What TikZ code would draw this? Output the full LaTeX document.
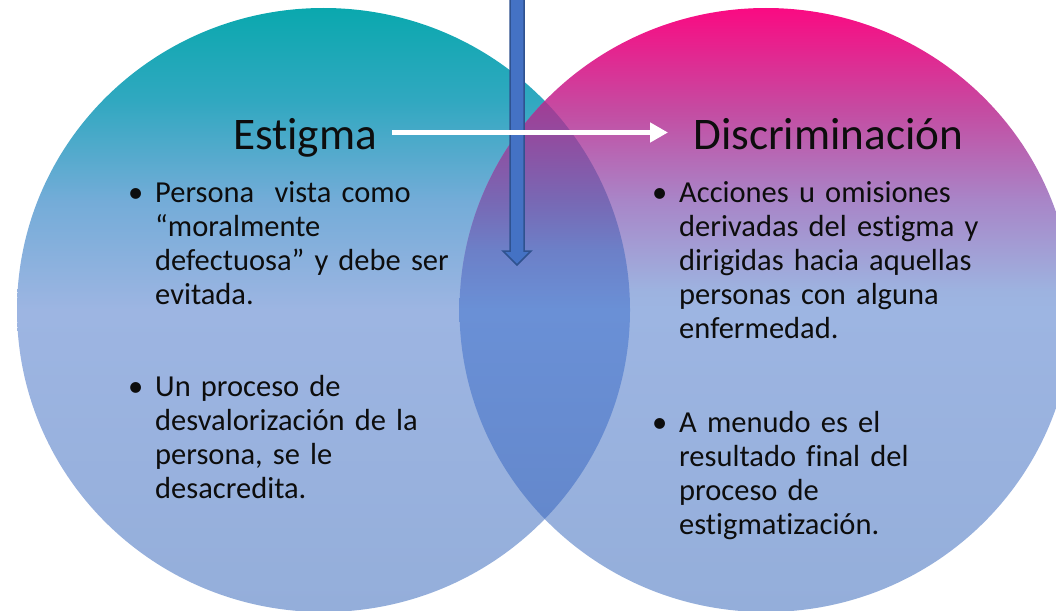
\documentclass[tikz,border=0pt]{standalone}
\usepackage{fontspec}
\setmainfont{Carlito}[Ligatures={NoCommon}]
\usetikzlibrary{arrows.meta,calc}

\definecolor{ltop}{HTML}{0AA8AE}
\definecolor{lone}{HTML}{30A8C0}
\definecolor{ltwo}{HTML}{74ACD8}
\definecolor{lmid}{HTML}{9DB5E2}
\definecolor{lbot}{HTML}{94AEDA}
\definecolor{rtop}{HTML}{FA0A82}
\definecolor{rone}{HTML}{C44CA2}
\definecolor{rtwo}{HTML}{A886C8}
\definecolor{rthr}{HTML}{9DB3E0}
\definecolor{otop}{HTML}{A23C94}
\definecolor{oone}{HTML}{8C52A4}
\definecolor{otwo}{HTML}{7868B4}
\definecolor{othr}{HTML}{6C80C8}
\definecolor{omid}{HTML}{6A90D6}
\definecolor{obot}{HTML}{6488CC}
\definecolor{arrowfill}{HTML}{4472C4}
\definecolor{arrowline}{HTML}{2F528F}
\definecolor{txt}{HTML}{0D0D0D}

\pgfdeclareverticalshading{leftsh}{100bp}{color(0bp)=(lbot); color(25bp)=(lbot); color(50bp)=(lmid); color(59bp)=(ltwo); color(67.4bp)=(lone); color(75bp)=(ltop); color(100bp)=(ltop)}
\pgfdeclareverticalshading{rightsh}{100bp}{color(0bp)=(lbot); color(25bp)=(lbot); color(50bp)=(lmid); color(51.5bp)=(rthr); color(59bp)=(rtwo); color(66.5bp)=(rone); color(75bp)=(rtop); color(100bp)=(rtop)}
\pgfdeclareverticalshading{oversh}{100bp}{color(0bp)=(obot); color(25bp)=(obot); color(50bp)=(omid); color(57bp)=(othr); color(63bp)=(otwo); color(69bp)=(oone); color(75bp)=(otop); color(100bp)=(otop)}

\newcommand\bul{\leavevmode\llap{•\hspace{12pt}}}

\tikzset{
  title/.style={font=\fontsize{45.2pt}{50pt}\selectfont, text=txt, inner sep=0pt, anchor=base west},
  body/.style={font=\fontsize{30.5pt}{34.2pt}\selectfont, text=txt, inner sep=0pt, anchor=base west, text width=370pt, align=left},
  wa/.style={draw=white, line width=5.5pt, -{Triangle[length=18pt,width=19pt]}},
  blockarrow/.style={fill=arrowfill, draw=arrowline, line width=1.5pt, line join=miter}
}

\begin{document}
\begin{tikzpicture}[x=1pt,y=-1pt]
\useasboundingbox (0,0) rectangle (1056,610);
\clip (0,0) rectangle (1056,610);

% circles
\path[shading=leftsh] (323.5,310) ellipse [x radius=306.5, y radius=302];
\path[shading=rightsh] (766,310) ellipse [x radius=306.5, y radius=302];
\begin{scope}
  \clip (323.5,310) ellipse [x radius=306.5, y radius=302];
  \clip (766,310) ellipse [x radius=306.5, y radius=302];
  \path[shading=oversh] (455,100) rectangle (635,519.5);
\end{scope}

% vertical block arrow
\coordinate (vtop) at (517,-5);
\coordinate (vtip) at (517,265);
\path[blockarrow] ([shift={(-7,0)}]vtop) -- ([shift={(-7,-14)}]vtip) -- ([shift={(-14,-14)}]vtip) -- (vtip)
  -- ([shift={(14,-14)}]vtip) -- ([shift={(7,-14)}]vtip) -- ([shift={(7,0)}]vtop) -- cycle;

% titles
\node[title] (est) at (233,149) {Estigma};
\node[title] (dis) at (693,149) {Discriminación};

% white arrow
\coordinate (wy) at (0,132.5);
\draw[wa, shorten <=15pt, shorten >=25pt] (est.east |- wy) -- (dis.west |- wy);

% bullet texts
\node[body] (l1) at (155,202) {\bul Persona~ vista como\\“moralmente\\defectuosa” y debe ser\\evitada.};
\node[body] (l2) at (155,396) {\bul Un proceso de\\desvalorización de la\\persona, se le\\desacredita.};
\node[body] (r1) at (679,202) {\bul Acciones u omisiones\\derivadas del estigma y\\dirigidas hacia aquellas\\personas con alguna\\enfermedad.};
\node[body] (r2) at (679,432) {\bul A menudo es el\\resultado final del\\proceso de\\estigmatización.};
\end{tikzpicture}
\end{document}
